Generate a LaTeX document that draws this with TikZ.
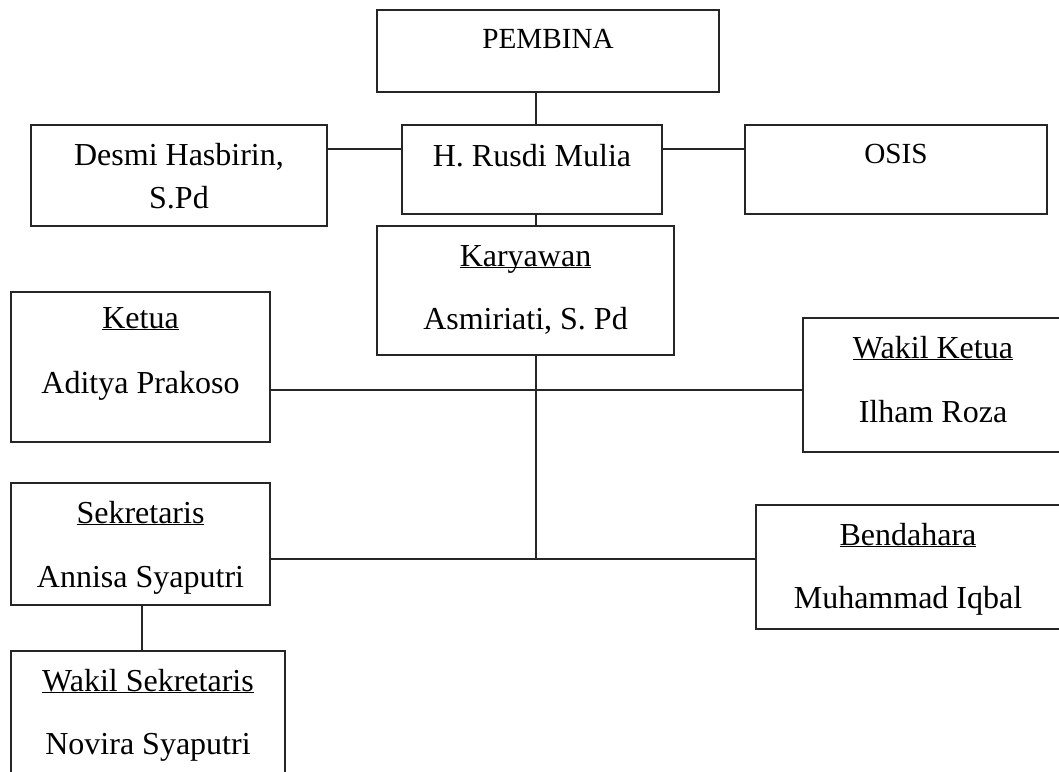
\documentclass[tikz,border=0pt]{standalone}
\usepackage{fontspec}
\setmainfont{Liberation Serif}
\begin{document}
\begin{tikzpicture}[x=1pt,y=-1pt,
  box/.style={draw=black!85,line width=1.8pt,rectangle,inner sep=0pt,anchor=center},
  conn/.style={draw=black!85,line width=1.6pt},
  txt/.style={anchor=base,inner sep=0pt,font=\fontsize{32}{38}\selectfont},
  smalltxt/.style={anchor=base,inner sep=0pt,font=\fontsize{29.2}{35}\selectfont}]
\useasboundingbox (0,0) rectangle (1059,771);
\clip (0,0) rectangle (1059,771);
% boxes
\node[box,minimum width=342pt,minimum height=82pt] (pemb) at (548,51) {};
\node[box,minimum width=260pt,minimum height=89pt] (rusdi) at (532,169.5) {};
\node[box,minimum width=296pt,minimum height=101pt] (desmi) at (179,175.5) {};
\node[box,minimum width=302pt,minimum height=89pt] (osis) at (896,169.5) {};
\node[box,minimum width=297pt,minimum height=129pt] (kary) at (525.5,290.5) {};
\node[box,minimum width=259pt,minimum height=150pt] (ketua) at (140.5,367) {};
\node[box,minimum width=261pt,minimum height=134pt] (wketua) at (933.5,385) {};
\node[box,minimum width=259pt,minimum height=122pt] (sek) at (140.5,544) {};
\node[box,minimum width=306pt,minimum height=124pt] (bend) at (909,567) {};
\node[box,minimum width=274pt,minimum height=149pt] (wsek) at (148,725.5) {};
% guide coordinates
\coordinate (spine) at (536,0);
\coordinate (topbar) at (0,149);
\coordinate (j1) at (536,390);
\coordinate (j2) at (536,559);
\coordinate (sekline) at (142,0);
% connectors
\draw[conn] (pemb.south -| spine) -- (rusdi.north -| spine);
\draw[conn] (rusdi.south -| spine) -- (kary.north -| spine);
\draw[conn] (desmi.east |- topbar) -- (rusdi.west |- topbar);
\draw[conn] (rusdi.east |- topbar) -- (osis.west |- topbar);
\draw[conn] (kary.south -| spine) -- (j2);
\draw[conn] (ketua.east |- j1) -- (wketua.west |- j1);
\draw[conn] (sek.east |- j2) -- (bend.west |- j2);
\draw[conn] (sek.south -| sekline) -- (wsek.north -| sekline);
% texts
\node[smalltxt] (tpemb) at (548,48) {PEMBINA};
\node[txt] (trusdi) at (532,166) {H. Rusdi Mulia};
\node[txt] (tdesmi1) at (179,165) {Desmi Hasbirin,};
\node[txt] (tdesmi2) at (179,208) {S.Pd};
\node[smalltxt] (tosis) at (896,163) {OSIS};
\node[txt] (tkary1) at (525.5,266) {\underbar{Karyawan}};
\node[txt] (tkary2) at (525.5,329) {Asmiriati, S. Pd};
\node[txt] (tketua1) at (140.5,328) {\underbar{Ketua}};
\node[txt] (tketua2) at (140.5,393) {Aditya Prakoso};
\node[txt] (twk1) at (933,358) {\underbar{Wakil Ketua}};
\node[txt] (twk2) at (933,422) {Ilham Roza};
\node[txt] (tsek1) at (140.5,523) {\underbar{Sekretaris}};
\node[txt] (tsek2) at (140.5,587) {Annisa Syaputri};
\node[txt] (tbend1) at (908,545) {\underbar{Bendahara}};
\node[txt] (tbend2) at (908,608) {Muhammad Iqbal};
\node[txt] (tws1) at (148,691) {\underbar{Wakil Sekretaris}};
\node[txt] (tws2) at (148,754) {Novira Syaputri};
\end{tikzpicture}
\end{document}
